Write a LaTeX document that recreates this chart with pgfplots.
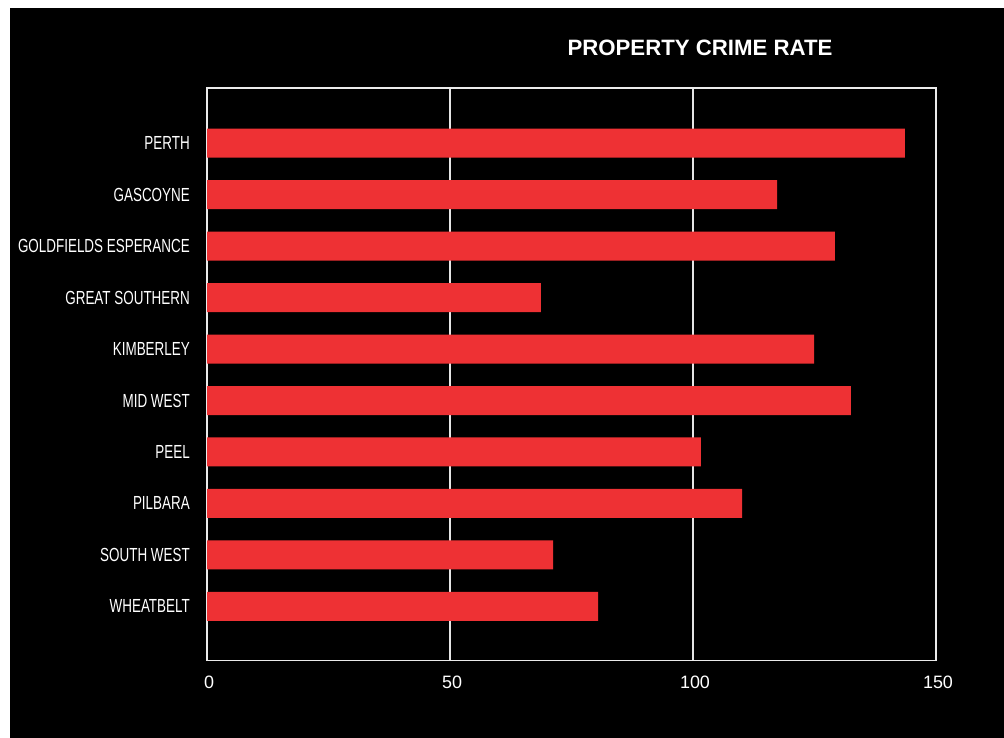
\documentclass[border=0pt]{standalone}
\usepackage{fontspec}
\setmainfont{Liberation Sans}
\newfontfamily\condfont[FakeStretch=0.71]{Liberation Sans}
\usepackage{pgfplots}
\pgfplotsset{compat=1.18}
\definecolor{barred}{RGB}{238,49,52}
\begin{document}
\begin{tikzpicture}[x=1bp,y=1bp]
\useasboundingbox (0,0) rectangle (1004,738);
\fill[white] (0,0) rectangle (1004,738);
\fill[black] (10,0) rectangle (1004,730);
\begin{axis}[
  at={(207bp,77.5bp)}, anchor=south west,
  width=729bp, height=572.5bp, scale only axis,
  xbar, bar width=29bp,
  xmin=0, xmax=150, ymin=-1.07, ymax=10.05, y dir=reverse,
  xtick={0,50,100,150},
  ytick={0,1,2,3,4,5,6,7,8,9},
  yticklabels={PERTH,GASCOYNE,GOLDFIELDS ESPERANCE,GREAT SOUTHERN,KIMBERLEY,MID WEST,PEEL,PILBARA,SOUTH WEST,WHEATBELT},
  yticklabel style={font=\condfont\fontsize{19}{19}\selectfont, text=white, anchor=east, inner sep=0pt, xshift=-17bp},
  xticklabel style={font=\fontsize{18}{18}\selectfont, text=white, anchor=north, inner sep=0pt, yshift=-15bp, xshift=2bp},
  /pgf/number format/assume math mode=true,
  major tick length=0pt,
  xmajorgrids, ymajorgrids=false,
  major grid style={white!90!black, line width=1.2bp},
  axis line style={white!92!black, line width=1.8bp},
]
\addplot[fill=barred, draw=none] coordinates {
  (143.6,0) (117.3,1) (129.2,2) (68.7,3) (124.9,4)
  (132.5,5) (101.6,6) (110.1,7) (71.2,8) (80.5,9)
};
\end{axis}
\node[text=white, font=\bfseries\fontsize{22.3}{23}\selectfont, inner sep=0pt] at (700,690) {PROPERTY CRIME RATE};
\end{tikzpicture}
\end{document}
